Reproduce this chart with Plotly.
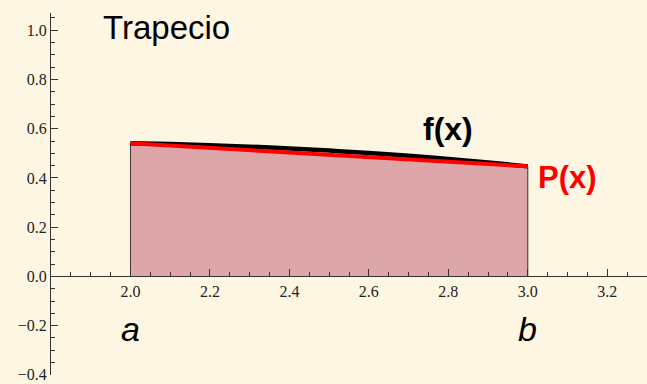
import numpy as np
import plotly.graph_objects as go

# ---- data ----
x_f = [2.0, 2.1, 2.2, 2.3, 2.4, 2.5, 2.6, 2.7, 2.8, 2.9, 3.0]
y_f = [0.541, 0.538, 0.533, 0.527, 0.520, 0.511, 0.501, 0.490, 0.477, 0.463, 0.447]
a_val, b_val = 2.0, 3.0
x_ticks = [2.0, 2.2, 2.4, 2.6, 2.8, 3.0, 3.2]
x_tick_text = ["2.0", "2.2", "2.4", "2.6", "2.8", "3.0", "3.2"]
y_ticks = [-0.4, -0.2, 0.0, 0.2, 0.4, 0.6, 0.8, 1.0]
y_tick_text = ["\u22120.4", "\u22120.2", "0.0", "0.2", "0.4", "0.6", "0.8", "1.0"]
x_range = [1.8, 3.3]
y_range = [-0.4005, 1.07]

# trapezoid (linear interpolant) through the end points
x_p = [a_val, b_val]
y_p = [y_f[0], y_f[-1]]

BG = "#FDF6E3"
FILL = "#DDA6A8"
AX = "#333333"

x_minor = [round(v, 2) for v in np.arange(1.85, 3.3, 0.05) if min(abs(v - t) for t in x_ticks) > 1e-6]
y_minor = [round(v, 2) for v in np.arange(-0.35, 1.07, 0.05) if min(abs(v - t) for t in y_ticks) > 1e-6]

fig = go.Figure()
# shaded trapezoid
fig.add_trace(go.Scatter(
    x=[x_p[0], x_p[0], x_p[1], x_p[1]], y=[0, y_p[0], y_p[1], 0],
    fill="toself", fillcolor=FILL, mode="lines",
    line=dict(color="rgba(0,0,0,0.75)", width=1), hoverinfo="skip", showlegend=False))
# f(x)
fig.add_trace(go.Scatter(x=x_f, y=y_f, mode="lines", line=dict(color="black", width=4.5, shape="spline"),
                         showlegend=False))
# P(x)
fig.add_trace(go.Scatter(x=x_p, y=y_p, mode="lines", line=dict(color="#FF0000", width=4),
                         showlegend=False))

tickfont = dict(family="Liberation Serif", size=16, color="#222222")
fig.update_layout(
    width=647, height=384,
    margin=dict(l=51, r=0, t=13, b=9, autoexpand=False),
    paper_bgcolor=BG, plot_bgcolor=BG,
    xaxis=dict(range=x_range, showgrid=False, zeroline=False, showline=True, linecolor=AX, linewidth=1,
               anchor="free", position=0.4005 / 1.4705, automargin=False,
               tickmode="array", tickvals=x_ticks, ticktext=x_tick_text,
               ticks="inside", ticklen=7, tickcolor=AX, tickfont=tickfont,
               ticklabeloverflow="allow",
               minor=dict(tickmode="array", tickvals=x_minor, ticks="inside", ticklen=4, tickcolor=AX, showgrid=False)),
    yaxis=dict(range=y_range, showgrid=False, zeroline=False, showline=True, linecolor=AX, linewidth=1,
               automargin=False,
               tickmode="array", tickvals=y_ticks, ticktext=y_tick_text,
               ticks="inside", ticklen=7, tickcolor=AX, tickfont=tickfont,
               ticklabeloverflow="allow",
               minor=dict(tickmode="array", tickvals=y_minor, ticks="inside", ticklen=4, tickcolor=AX, showgrid=False)),
)

sans = "Liberation Sans"
fig.add_annotation(x=2.0906, y=1.01, text="Trapecio", showarrow=False, xanchor="center", yanchor="middle",
                   font=dict(family=sans, size=33, color="black"))
fig.add_annotation(x=2.798, y=0.60, text="<b>f(x)</b>", showarrow=False, xanchor="center", yanchor="middle",
                   font=dict(family=sans, size=32, color="black"))
fig.add_annotation(x=3.099, y=0.40, text="<b>P(x)</b>", showarrow=False, xanchor="center", yanchor="middle",
                   font=dict(family=sans, size=31, color="#FF0000"))
fig.add_annotation(x=a_val, y=-0.215, text="<i>a</i>", showarrow=False, xanchor="center", yanchor="middle",
                   font=dict(family=sans, size=34, color="black"))
fig.add_annotation(x=b_val, y=-0.215, text="<i>b</i>", showarrow=False, xanchor="center", yanchor="middle",
                   font=dict(family=sans, size=34, color="black"))

fig.write_html("out.html", config={"displayModeBar": False},
               post_script="document.body.style.margin='0px';document.body.style.padding='0px';"
                           "document.body.style.background='" + BG + "';")
